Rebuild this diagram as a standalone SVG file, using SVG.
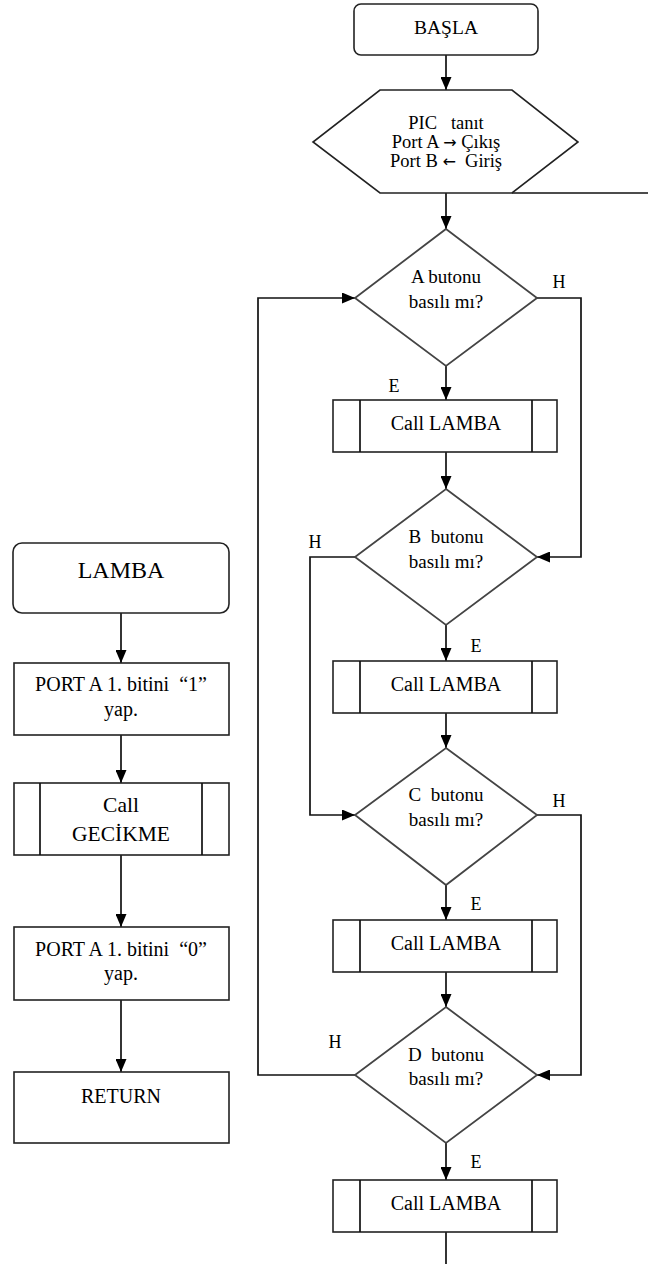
<svg xmlns="http://www.w3.org/2000/svg" width="648" height="1264" viewBox="0 0 648 1264">
<defs>
<marker id="ah" markerWidth="13" markerHeight="11" refX="13" refY="5.5" orient="auto" markerUnits="userSpaceOnUse">
<path d="M0,0 L13,5.5 L0,11 Z" fill="#000"/>
</marker>
<style>
.sh{fill:#fff;stroke:#222;stroke-width:1.6}
.dm{fill:#fff;stroke:#444;stroke-width:1.8}
.ln{fill:none;stroke:#111;stroke-width:1.7}
.ar{fill:none;stroke:#111;stroke-width:1.7;marker-end:url(#ah)}
</style>
</defs>
<rect width="648" height="1264" fill="#fff"/>
<g id="connectors">
<line class="ar" x1="446" y1="55" x2="446" y2="90"/>
<line class="ln" x1="512" y1="193" x2="648" y2="193"/>
<line class="ar" x1="446" y1="193" x2="446" y2="229"/>
<line class="ar" x1="446" y1="366" x2="446" y2="400"/>
<line class="ar" x1="446" y1="452" x2="446" y2="489"/>
<polyline class="ar" points="537,298 581,298 581,557 537,557"/>
<line class="ar" x1="446" y1="625" x2="446" y2="661"/>
<line class="ar" x1="446" y1="713" x2="446" y2="748"/>
<polyline class="ar" points="355,557 310,557 310,815 355,815"/>
<line class="ar" x1="446" y1="885" x2="446" y2="920"/>
<line class="ar" x1="446" y1="972" x2="446" y2="1007"/>
<polyline class="ar" points="537,815 581,815 581,1075 537,1075"/>
<polyline class="ar" points="355,1075 258,1075 258,298 355,298"/>
<line class="ar" x1="446" y1="1143" x2="446" y2="1180"/>
<line class="ln" x1="446" y1="1232" x2="446" y2="1264"/>
<line class="ar" x1="121" y1="613" x2="121" y2="663"/>
<line class="ar" x1="121" y1="735" x2="121" y2="783"/>
<line class="ar" x1="121" y1="855" x2="121" y2="927"/>
<line class="ar" x1="121" y1="1000" x2="121" y2="1072"/>
<g font-family="Liberation Serif" font-size="18" text-anchor="middle">
<text x="559" y="288">H</text>
<text x="394" y="392">E</text>
<text x="315" y="548">H</text>
<text x="476" y="652">E</text>
<text x="559" y="807">H</text>
<text x="476" y="910">E</text>
<text x="335" y="1048">H</text>
<text x="476" y="1168">E</text>
</g>
</g>
<g id="basla" font-family="Liberation Serif" text-anchor="middle">
<rect class="sh" x="354" y="4" width="184" height="51" rx="7"/>
<text x="446" y="34" font-size="19.5">BAŞLA</text>
</g>
<g id="init" font-family="Liberation Serif" text-anchor="middle" font-size="18.5">
<polygon class="sh" points="380,90 512,90 578,142 512,193 380,193 313,142"/>
<text x="446" y="129" xml:space="preserve">PIC   tanıt</text>
<text x="446" y="148">Port A <tspan font-family="DejaVu Sans" font-size="16">→</tspan> Çıkış</text>
<text x="446" y="167" xml:space="preserve">Port B <tspan font-family="DejaVu Sans" font-size="16">←</tspan>  Giriş</text>
</g>
<g id="dA" font-family="Liberation Serif" text-anchor="middle" font-size="19">
<polygon class="dm" points="446,229 537,298 446,366 355,298"/>
<text x="446" y="283">A butonu</text>
<text x="446" y="308">basılı mı?</text>
</g>
<g id="cA" font-family="Liberation Serif" text-anchor="middle" font-size="20">
<rect class="sh" x="333" y="400" width="224" height="52"/>
<line class="ln" x1="360" y1="400" x2="360" y2="452"/>
<line class="ln" x1="532" y1="400" x2="532" y2="452"/>
<text x="446" y="430">Call LAMBA</text>
</g>
<g id="dB" font-family="Liberation Serif" text-anchor="middle" font-size="19">
<polygon class="dm" points="446,489 537,557 446,625 355,557"/>
<text x="446" y="543" xml:space="preserve">B  butonu</text>
<text x="446" y="568">basılı mı?</text>
</g>
<g id="cB" font-family="Liberation Serif" text-anchor="middle" font-size="20">
<rect class="sh" x="333" y="661" width="224" height="52"/>
<line class="ln" x1="360" y1="661" x2="360" y2="713"/>
<line class="ln" x1="532" y1="661" x2="532" y2="713"/>
<text x="446" y="691">Call LAMBA</text>
</g>
<g id="dC" font-family="Liberation Serif" text-anchor="middle" font-size="19">
<polygon class="dm" points="446,748 537,815 446,885 355,815"/>
<text x="446" y="801" xml:space="preserve">C  butonu</text>
<text x="446" y="826">basılı mı?</text>
</g>
<g id="cC" font-family="Liberation Serif" text-anchor="middle" font-size="20">
<rect class="sh" x="333" y="920" width="224" height="52"/>
<line class="ln" x1="360" y1="920" x2="360" y2="972"/>
<line class="ln" x1="532" y1="920" x2="532" y2="972"/>
<text x="446" y="950">Call LAMBA</text>
</g>
<g id="dD" font-family="Liberation Serif" text-anchor="middle" font-size="19">
<polygon class="dm" points="446,1007 537,1075 446,1143 355,1075"/>
<text x="446" y="1061" xml:space="preserve">D  butonu</text>
<text x="446" y="1085">basılı mı?</text>
</g>
<g id="cD" font-family="Liberation Serif" text-anchor="middle" font-size="20">
<rect class="sh" x="333" y="1180" width="224" height="52"/>
<line class="ln" x1="360" y1="1180" x2="360" y2="1232"/>
<line class="ln" x1="532" y1="1180" x2="532" y2="1232"/>
<text x="446" y="1210">Call LAMBA</text>
</g>
<g id="lamba" font-family="Liberation Serif" text-anchor="middle">
<rect class="sh" x="13" y="543" width="216" height="70" rx="9"/>
<text x="121" y="578" font-size="24">LAMBA</text>
</g>
<g id="p1" font-family="Liberation Serif" text-anchor="middle" font-size="20">
<rect class="sh" x="14" y="663" width="215" height="72"/>
<text x="121" y="691" xml:space="preserve">PORT A 1. bitini  “1”</text>
<text x="121" y="716">yap.</text>
</g>
<g id="gecikme" font-family="Liberation Serif" text-anchor="middle" font-size="21.5">
<rect class="sh" x="14" y="783" width="215" height="72"/>
<line class="ln" x1="40" y1="783" x2="40" y2="855"/>
<line class="ln" x1="202" y1="783" x2="202" y2="855"/>
<text x="121" y="812">Call</text>
<text x="121" y="841">GECİKME</text>
</g>
<g id="p0" font-family="Liberation Serif" text-anchor="middle" font-size="20">
<rect class="sh" x="14" y="927" width="215" height="73"/>
<text x="121" y="956" xml:space="preserve">PORT A 1. bitini  “0”</text>
<text x="121" y="980">yap.</text>
</g>
<g id="return" font-family="Liberation Serif" text-anchor="middle" font-size="20">
<rect class="sh" x="14" y="1072" width="215" height="71"/>
<text x="121" y="1103">RETURN</text>
</g>
</svg>
